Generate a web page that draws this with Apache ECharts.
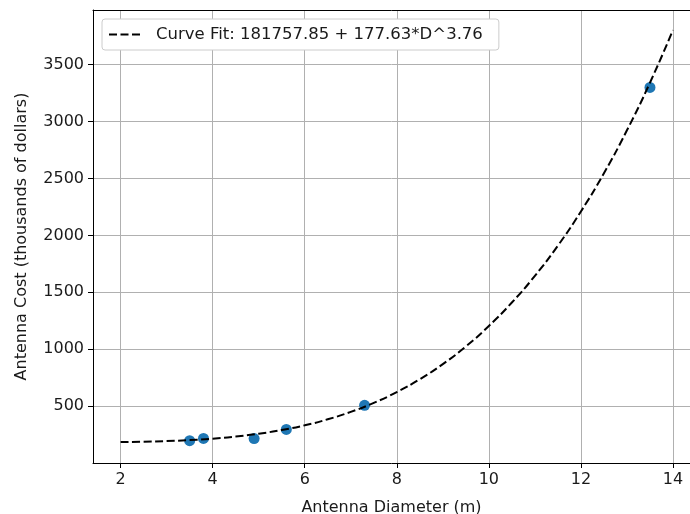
<!DOCTYPE html>
<html>
<head>
<meta charset="utf-8">
<script src="https://cdn.jsdelivr.net/npm/echarts@6/dist/echarts.min.js"></script>
<style>
  html, body { margin: 0; padding: 0; background: #fff; }
  #chart { width: 690px; height: 514px; }
</style>
</head>
<body>
<div id="chart"></div>
<script>
// measured antenna data (diameter m, cost in thousands of dollars)
const diameters = [3.5, 3.8, 4.9, 5.6, 7.3, 13.5];
const costs = [196, 216, 215, 295, 507, 3300];

// fitted curve
const fitD = [2, 2.5, 3, 3.5, 4, 4.5, 5, 5.5, 6, 6.5, 7, 7.5, 8, 8.5, 9, 9.5, 10, 10.5, 11, 11.5, 12, 12.5, 13, 13.5, 14];
const fitCost = [184, 187, 193, 201, 214, 232, 257, 290, 331, 384, 449, 528, 623, 736, 869, 1024, 1204, 1410, 1644, 1910, 2210, 2546, 2923, 3341, 3804];

const xTicks = [2, 4, 6, 8, 10, 12, 14];
const yTicks = [500, 1000, 1500, 2000, 2500, 3000, 3500];

const fitName = 'Curve Fit: 181757.85 + 177.63*D^3.76';
const font = "'DejaVu Sans'";
const chart = echarts.init(document.getElementById('chart'), null, { renderer: 'canvas' });

const gridLine = { show: true, lineStyle: { color: '#b0b0b0', width: 1 } };
const spine = { show: true, onZero: false, lineStyle: { color: '#000', width: 1 } };
const tickText = { fontFamily: font, fontSize: 16, color: '#1a1a1a' };

chart.setOption({
  animation: false,
  backgroundColor: '#fff',
  // right edge of the plot lies past the canvas, like the cropped original
  grid: { left: 93, top: 10, right: 0, bottom: 51, containLabel: false, outerBoundsMode: 'none' },
  legend: {
    left: 102,
    top: 19,
    padding: [7, 16, 7, 6],
    backgroundColor: '#fff',
    borderColor: '#cccccc',
    borderWidth: 1,
    borderRadius: 3,
    itemWidth: 34,
    itemHeight: 14,
    itemGap: 10,
    itemStyle: { opacity: 0 },
    textStyle: { fontFamily: font, fontSize: 16.5, color: '#1a1a1a', padding: [0, 0, 0, 8] },
    data: [{ name: fitName }]
  },
  xAxis: [
    {
      type: 'value',
      min: 1.4,
      max: 14.37,
      name: 'Antenna Diameter (m)',
      nameLocation: 'middle',
      nameGap: 37,
      nameTextStyle: tickText,
      axisLine: spine,
      axisTick: { show: true, length: 5, customValues: xTicks, lineStyle: { color: '#000' } },
      axisLabel: Object.assign({ margin: 9, customValues: xTicks, formatter: v => String(v) }, tickText),
      splitLine: gridLine
    },
    {
      type: 'value',
      position: 'top',
      min: 1.4,
      max: 14.37,
      axisLine: spine,
      axisTick: { show: false },
      axisLabel: { show: false },
      splitLine: { show: false }
    }
  ],
  yAxis: {
    type: 'value',
    min: 0,
    max: 3980,
    name: 'Antenna Cost (thousands of dollars)',
    nameLocation: 'middle',
    nameGap: 63,
    nameTextStyle: tickText,
    axisLine: spine,
    axisTick: { show: true, length: 5, customValues: yTicks, lineStyle: { color: '#000' } },
    axisLabel: Object.assign({ margin: 9, customValues: yTicks, formatter: v => String(v) }, tickText),
    splitLine: gridLine
  },
  series: [
    {
      name: fitName,
      type: 'line',
      data: fitD.map((d, i) => [d, fitCost[i]]),
      smooth: true,
      showSymbol: false,
      lineStyle: { color: '#000', width: 2, type: [8, 3.5] },
      itemStyle: { color: '#000' },
      z: 3
    },
    {
      name: 'data',
      type: 'scatter',
      data: diameters.map((d, i) => [d, costs[i]]),
      symbolSize: 11,
      itemStyle: { color: '#1f77b4', opacity: 1 },
      z: 2
    }
  ]
});
</script>
</body>
</html>
